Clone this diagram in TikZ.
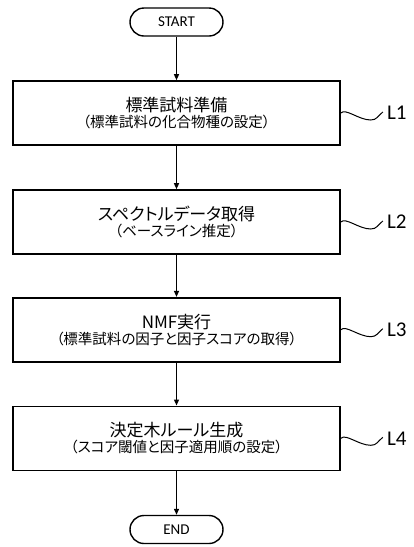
\documentclass[tikz,border=0pt]{standalone}
\usepackage{fontspec}
\newfontfamily\jp[RawFeature=+palt]{Noto Sans CJK JP}
\newfontfamily\lat{Carlito}
\usetikzlibrary{arrows.meta}
\begin{document}
\begin{tikzpicture}[x=1pt,y=-1pt,
  stepbox/.style={draw,line width=1.6pt,minimum width=327pt,minimum height=64pt,align=center,inner sep=0pt},
  term/.style={draw,line width=1.4pt,rounded corners=14pt,minimum width=93pt,minimum height=28pt,inner sep=0pt,font=\lat\fontsize{15}{16}\selectfont},
  flow/.style={line width=1.2pt,-{Triangle[length=6pt,width=5pt]}},
  lab/.style={font=\lat\fontsize{21}{22}\selectfont,inner sep=0pt,anchor=west},
  wave/.style={line width=1pt}]
\useasboundingbox (0,0) rectangle (414,547);
\newcommand{\ttl}[1]{{\jp\fontsize{17}{19}\selectfont #1}}
\newcommand{\sbt}[1]{{\jp\fontsize{14.5}{16}\selectfont #1}}
\node[term] (start) at (176.5,22) {START};
\node[stepbox] (b1) at (176.5,113) {\ttl{標準試料準備}\\[1pt]\sbt{（標準試料の化合物種の設定）}};
\node[stepbox] (b2) at (176.5,222) {\ttl{スペクトルデータ取得}\\[1pt]\sbt{（ベースライン推定）}};
\node[stepbox] (b3) at (176.5,329.7) {\ttl{NMF実行}\\[1pt]\sbt{（標準試料の因子と因子スコアの取得）}};
\node[stepbox] (b4) at (176.5,438.3) {\ttl{決定木ルール生成}\\[1pt]\sbt{（スコア閾値と因子適用順の設定）}};
\node[term] (end) at (176.5,529.5) {END};
\draw[flow] (start) -- (b1);
\draw[flow] (b1) -- (b2);
\draw[flow] (b2) -- (b3);
\draw[flow] (b3) -- (b4);
\draw[flow] (b4) -- (end);
\foreach \i in {1,2,3,4}{
  \node[lab] (L\i) at ([shift={(46,0)}]b\i.east) {L\i};
  \draw[wave] (b\i.east) .. controls +(5,-5) and +(-12,0) .. ([shift={(30,7)}]b\i.east) .. controls +(6,0) and +(-5,4) .. ([shift={(42,-1)}]b\i.east);
}
\end{tikzpicture}
\end{document}
